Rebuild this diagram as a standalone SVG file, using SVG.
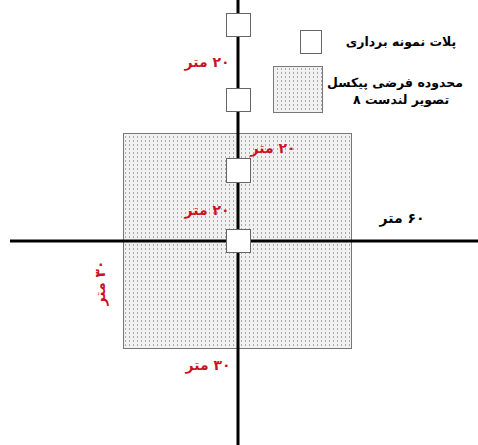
<svg xmlns="http://www.w3.org/2000/svg" width="478" height="445" viewBox="0 0 478 445">
<defs>
<pattern id="dots" width="4" height="4" patternUnits="userSpaceOnUse">
<rect width="4" height="4" fill="#f1f1f1"/>
<rect x="1" y="0" width="1" height="2" fill="#aaaaaa"/>
</pattern>
</defs>
<style>
.t{font-family:"DejaVu Sans","Noto Sans",sans-serif;font-weight:bold;font-size:14px;direction:rtl;unicode-bidi:embed;text-anchor:middle}
.lg{font-size:12.5px}
.red{fill:#c8141e}
.blk{fill:#000}
.plot{fill:#fff;stroke:#666;stroke-width:1}
.axis{stroke:#000;stroke-width:3}
</style>
<rect id="pixel" x="123.5" y="133.5" width="228" height="215" fill="url(#dots)" stroke="#777" stroke-width="1"/>
<g id="connectors">
<line class="axis" x1="238" y1="0" x2="238" y2="445"/>
<line class="axis" x1="10" y1="241" x2="478" y2="241"/>
</g>
<g id="plot1"><rect class="plot" x="226.5" y="13.5" width="24" height="23"/></g>
<g id="plot2"><rect class="plot" x="226.5" y="88.5" width="24" height="23"/></g>
<g id="plot3"><rect class="plot" x="226.5" y="158.5" width="24" height="24"/></g>
<g id="plot4"><rect class="plot" x="226.5" y="229.5" width="24" height="23"/></g>
<g id="labels">
<text class="t red" x="207" y="67">۲۰ متر</text>
<text class="t red" x="273" y="153">۲۰ متر</text>
<text class="t red" x="207" y="215">۲۰ متر</text>
<text class="t blk" x="402" y="223">۶۰ متر</text>
<text class="t red" x="208" y="370">۳۰ متر</text>
<text class="t red" transform="translate(100,283) rotate(-90)" x="0" y="5">۳۰ متر</text>
</g>
<g id="legend">
<rect class="plot" x="300.5" y="30.5" width="21" height="23"/>
<text class="t blk lg" x="401" y="46">پلات نمونه برداری</text>
<rect x="273.5" y="66.5" width="49" height="46" fill="url(#dots)" stroke="#777" stroke-width="1"/>
<text class="t blk lg" x="395" y="87">محدوده فرضی پیکسل</text>
<text class="t blk lg" x="401" y="104">تصویر لندست ۸</text>
</g>
</svg>
